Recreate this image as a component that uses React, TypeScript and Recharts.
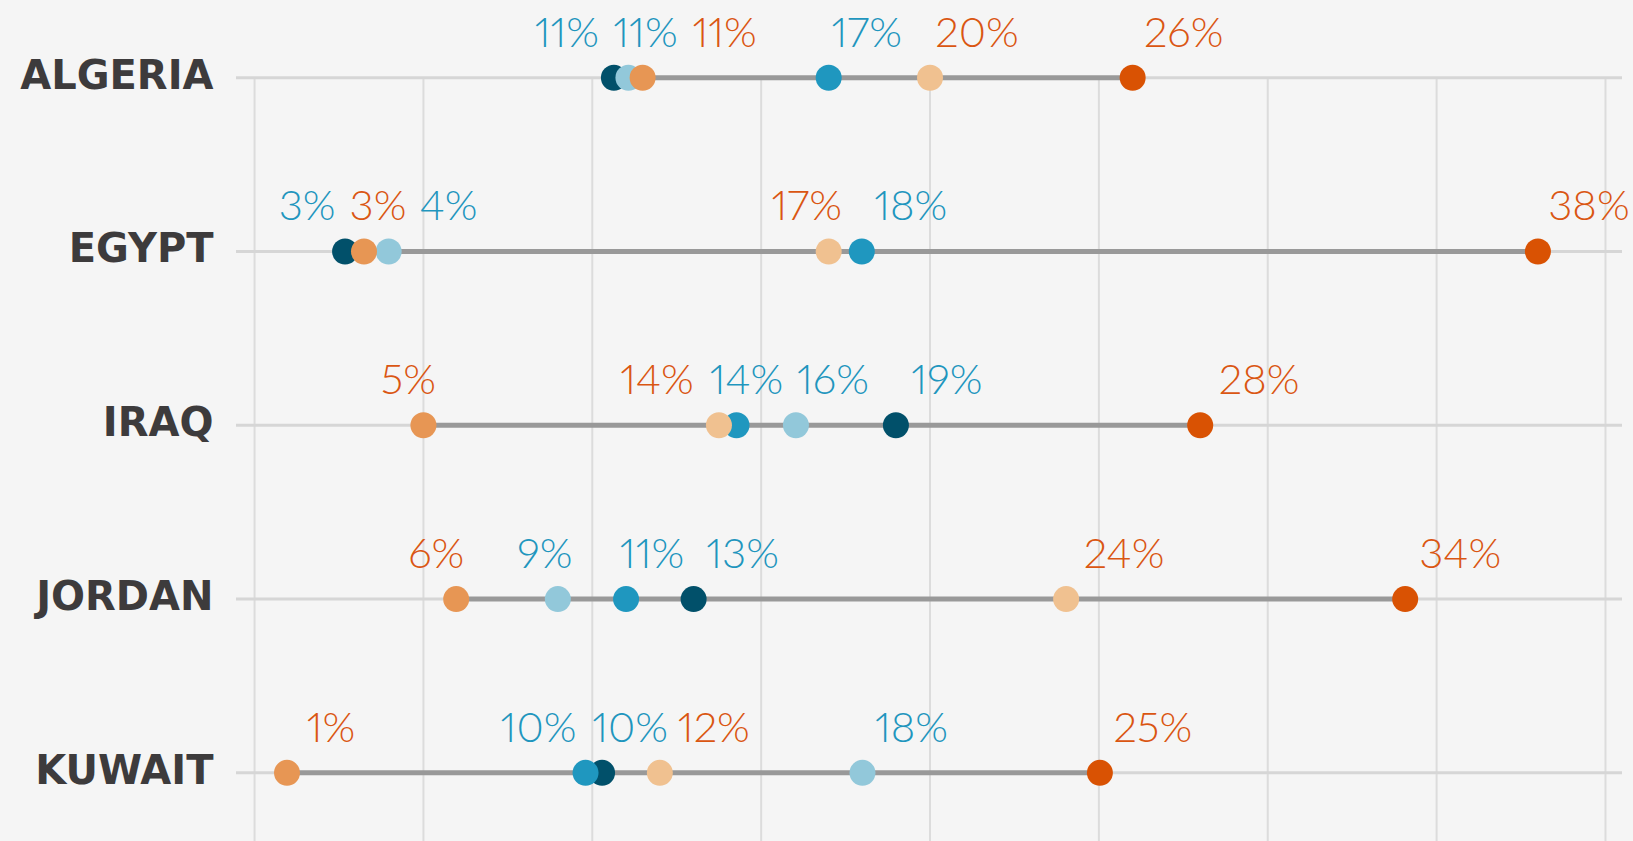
import React from 'react';
import { ScatterChart, Scatter, XAxis, YAxis, ReferenceLine } from 'recharts';

// Rows, top to bottom
const countries = ['ALGERIA', 'EGYPT', 'IRAQ', 'JORDAN', 'KUWAIT'];

// Share (%) per country, one array per dot colour
const darkTeal = [10.64, 2.68, 18.99, 13.0, 10.29];
const teal = [17.0, 17.98, 14.27, 11.0, 9.8];
const lightBlue = [11.07, 3.97, 16.03, 8.98, 18.0];
const lightOrange = [20.0, 17.0, 13.75, 24.03, 12.0];
const orange = [11.49, 3.24, 5.0, 5.97, 0.96];
const darkOrange = [26.0, 38.0, 28.0, 34.07, 25.03];

const xTicks = [0, 5, 10, 15, 20, 25, 30, 35, 40];
const rowTicks = [0, 1, 2, 3, 4];

const TEAL_TEXT = '#1f96be';
const ORANGE_TEXT = '#da5612';

// label nudges (px, relative to the dot) so neighbouring labels don't collide
const series = [
  { key: 'darkTeal', values: darkTeal, color: '#01506a', text: TEAL_TEXT, labelDx: [-47, -38, 51, 49, 28] },
  { key: 'teal', values: teal, color: '#1f97bf', text: TEAL_TEXT, labelDx: [38, 49, 10, 26, -47] },
  { key: 'lightBlue', values: lightBlue, color: '#92c8da', text: TEAL_TEXT, labelDx: [17, 60, 37, -13, 49] },
  { key: 'lightOrange', values: lightOrange, color: '#f0c190', text: ORANGE_TEXT, labelDx: [47, -22, -62, 58, 54] },
  { key: 'orange', values: orange, color: '#e79654', text: ORANGE_TEXT, labelDx: [82, 14, -15, -20, 44] },
  { key: 'darkOrange', values: darkOrange, color: '#d95203', text: ORANGE_TEXT, labelDx: [51, 51, 59, 55, 53] },
];

const CountryTick = (props: any) => {
  const { x, y, payload } = props;
  return (
    <text x={x} y={y} dy={11} textAnchor="end" fontFamily="DejaVu Sans" fontWeight={700} fontSize={40} fill="#3d3b3c">
      {countries[payload.value]}
    </text>
  );
};

const makeDot = (s: typeof series[number]) => (props: any) => {
  const { cx, cy, payload } = props;
  return (
    <g>
      <circle cx={cx} cy={cy} r={13} fill={s.color} />
      <text
        x={cx + s.labelDx[payload.y]}
        y={cy - 31}
        textAnchor="middle"
        fontFamily="Lato"
        fontWeight={300}
        fontSize={42}
        fill={s.text}
        style={{ fontVariantNumeric: 'proportional-nums' }}
      >
        {Math.round(payload.x)}%
      </text>
    </g>
  );
};

export default function App() {
  const ranges = countries.map((_, i) => {
    const vals = series.map(s => s.values[i]);
    return { row: i, min: Math.min(...vals), max: Math.max(...vals) };
  });

  return (
    <div style={{ position: 'absolute', left: 0, top: 0, width: 1633, height: 841, background: '#f5f5f5', overflow: 'hidden' }}>
      <ScatterChart width={1633} height={841} margin={{ top: 77.7, right: 11, bottom: 0, left: 0 }}>
        <XAxis type="number" dataKey="x" hide domain={[-0.55, 40.49]} ticks={xTicks} />
        <YAxis
          type="number"
          dataKey="y"
          reversed
          domain={[0, 4.392]}
          ticks={rowTicks}
          width={236}
          axisLine={false}
          tickLine={false}
          tickSize={0}
          tickMargin={22.5}
          tick={<CountryTick />}
        />
        {xTicks.map(t => (
          <ReferenceLine key={'grid' + t} x={t} stroke="#dcdcdc" strokeWidth={2} />
        ))}
        {rowTicks.map(r => (
          <ReferenceLine key={'row' + r} y={r} stroke="#d6d6d6" strokeWidth={3} />
        ))}
        {ranges.map(r => (
          <ReferenceLine
            key={'rng' + r.row}
            segment={[{ x: r.min, y: r.row }, { x: r.max, y: r.row }]}
            stroke="#999999"
            strokeWidth={5}
          />
        ))}
        {series.map(s => (
          <Scatter
            key={s.key}
            name={s.key}
            data={countries.map((_, i) => ({ x: s.values[i], y: i }))}
            shape={makeDot(s)}
            isAnimationActive={false}
          />
        ))}
      </ScatterChart>
    </div>
  );
}
